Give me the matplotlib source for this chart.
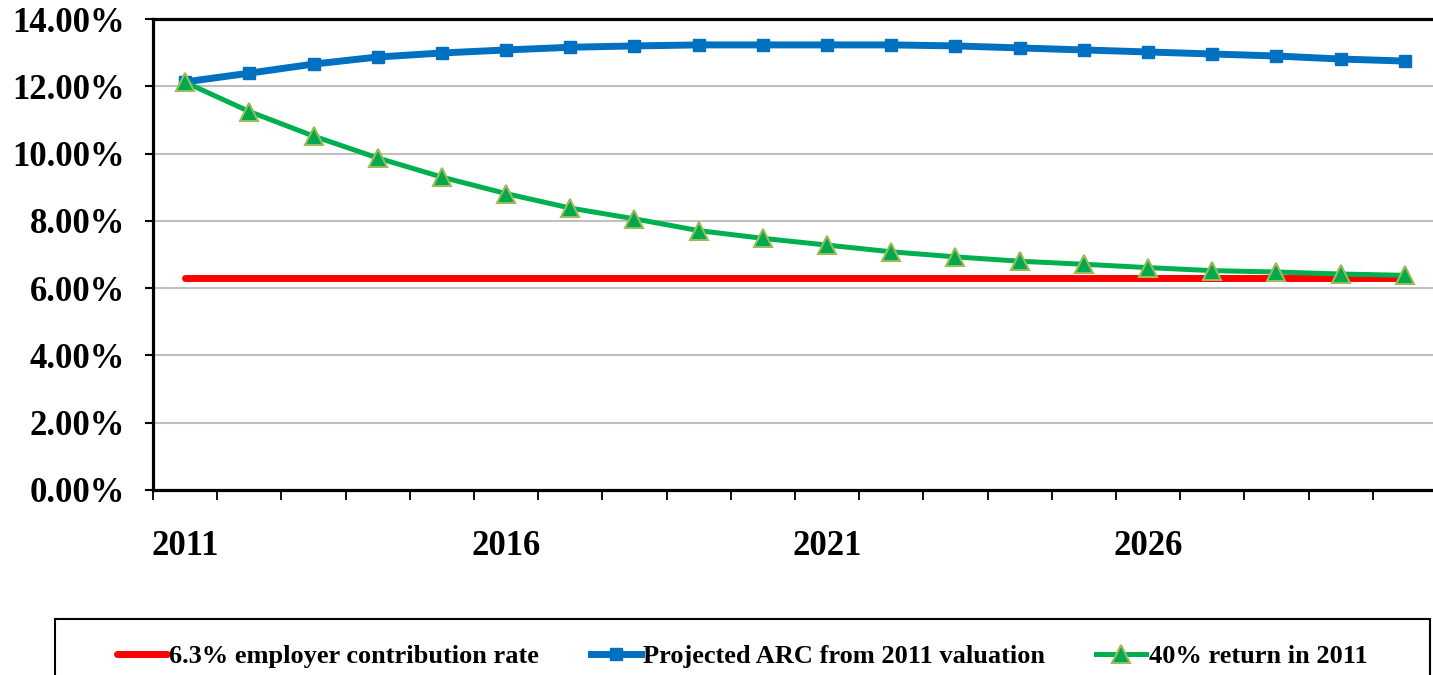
import matplotlib
matplotlib.use("Agg")
import matplotlib.pyplot as plt
from matplotlib.patches import Rectangle
from matplotlib.ticker import FixedLocator, FuncFormatter

years = list(range(2011, 2031))
year_labels = ["2011", "2016", "2021", "2026"]

employer_rate = [6.30] * 20
projected_arc = [12.13, 12.39, 12.66, 12.87, 12.99, 13.08, 13.16, 13.20, 13.23, 13.23,
                 13.23, 13.23, 13.20, 13.14, 13.08, 13.02, 12.96, 12.90, 12.81, 12.75]
return_40 = [12.12, 11.25, 10.52, 9.87, 9.30, 8.81, 8.38, 8.06, 7.71, 7.48,
             7.28, 7.08, 6.93, 6.80, 6.71, 6.61, 6.52, 6.48, 6.42, 6.38]

series_labels = ["6.3% employer contribution rate",
                 "Projected ARC from 2011 valuation",
                 "40% return in 2011"]

plt.rcParams['font.family'] = ['Liberation Serif', 'DejaVu Serif']
plt.rcParams['font.weight'] = 'bold'

fig = plt.figure(figsize=(14.33, 6.75), dpi=100)
ax = fig.add_axes([153 / 1433, 1 - 490 / 675, 1284 / 1433, 471 / 675])

x = list(range(len(years)))

ax.plot(x, employer_rate, color='#ff0000', lw=5, solid_capstyle='round',
        label=series_labels[0], zorder=3)
ax.plot(x, projected_arc, color='#0070c0', lw=5, marker='s', markersize=9,
        markerfacecolor='#0070c0', markeredgecolor='#0070c0',
        label=series_labels[1], zorder=4)
ax.plot(x, return_40, color='#00b050', lw=3.6, marker='^', markersize=13.5,
        markerfacecolor='#00a84f', markeredgecolor='#9bbb59', markeredgewidth=1.5,
        label=series_labels[2], zorder=5)

ax.set_xlim(-0.5, len(years) - 0.5)
ax.set_ylim(0, 14)

# y axis: percent labels every 2 points
ax.set_yticks([0, 2, 4, 6, 8, 10, 12, 14])
ax.yaxis.set_major_formatter(FuncFormatter(lambda v, p: "%.2f%%" % v))
ax.tick_params(axis='y', direction='out', length=6, width=1.5, pad=14,
               labelsize=25)
ax.yaxis.grid(True, color='#c0c0c0', lw=1.5)
ax.set_axisbelow(True)

# x axis: category ticks between years, labels every fifth year
label_pos = [years.index(int(y)) for y in year_labels]
ax.set_xticks(label_pos)
ax.set_xticklabels(year_labels)
ax.xaxis.set_minor_locator(FixedLocator([i - 0.5 for i in range(len(years) + 1)]))
ax.tick_params(axis='x', which='major', length=0, pad=29, labelsize=25)
ax.tick_params(axis='x', which='minor', direction='out', length=7.5, width=1.3)

for side in ['left', 'bottom', 'top']:
    ax.spines[side].set_linewidth(2.3)
    ax.spines[side].set_color('black')
ax.spines['right'].set_visible(False)

# legend box along the bottom
fig.patches.append(Rectangle((55 / 1433, -0.05), 1375 / 1433, 0.05 + 56 / 675,
                             transform=fig.transFigure, facecolor='none',
                             edgecolor='black', lw=1.5))
fig.legend(loc='center left', bbox_to_anchor=(117 / 1433, 1 - 656 / 675), ncol=3,
           frameon=False, fontsize=19, handlelength=1.9, handletextpad=0.08,
           columnspacing=1.95, borderaxespad=0, borderpad=0)

fig.savefig("out.png", dpi=100)
